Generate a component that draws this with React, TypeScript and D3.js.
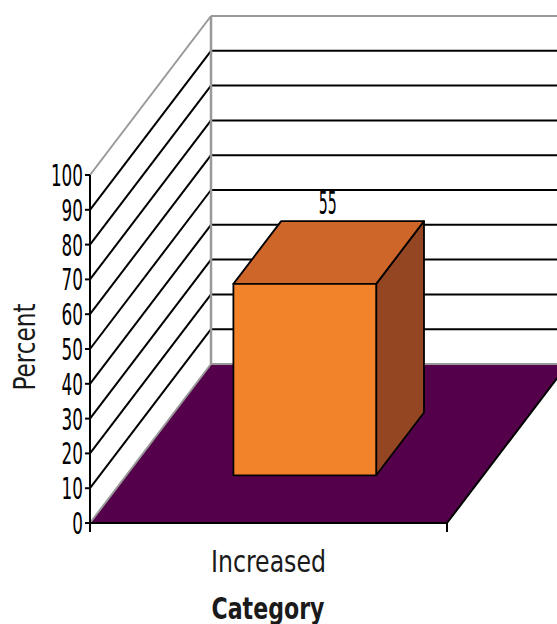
import React from "react";
import * as d3 from "d3";

const categories = ["Increased"];
const values = [55];
const yTicks = [0, 10, 20, 30, 40, 50, 60, 70, 80, 90, 100];
const yTitle = "Percent";
const xTitle = "Category";

const W = 557;
const H = 624;
const FONT = "'Liberation Sans Narrow', 'DejaVu Sans Condensed', 'Liberation Sans', sans-serif";

export default function App() {
  const y = d3.scaleLinear().domain([0, 100]).range([523, 175]);
  const x = d3.scaleBand().domain(categories).range([90, 447]).padding(0);
  const DX = 121;
  const DY = -159;
  const right = 447;
  const gray = "#999999";
  const zF = 0.3;
  const zB = 0.695;
  const barFrac = 0.4;
  const digitW = 10.7;

  const pts = (a: [number, number][]) => a.map((p) => p.join(",")).join(" ");

  return (
    <svg width={W} height={H} style={{ position: "absolute", left: 0, top: 0 }}>
      <rect x={0} y={0} width={W} height={H} fill="#ffffff" />
      {/* floor */}
      <polygon
        points={pts([
          [x.range()[0], y(0)],
          [right, y(0)],
          [right + DX, y(0) + DY],
          [x.range()[0] + DX, y(0) + DY],
        ])}
        fill="#55004A"
      />
      {/* back wall gridlines */}
      {yTicks.map((t, i) => (
        <line
          key={"bg" + t}
          x1={90 + DX}
          x2={W + 20}
          y1={y(t) + DY}
          y2={y(t) + DY}
          stroke={i === 0 || i === yTicks.length - 1 ? gray : "#000"}
          strokeWidth={2}
        />
      ))}
      {/* left wall diagonals */}
      {yTicks.map((t, i) => (
        <line
          key={"lw" + t}
          x1={90}
          y1={y(t)}
          x2={90 + DX}
          y2={y(t) + DY}
          stroke={i === 0 || i === yTicks.length - 1 ? gray : "#000"}
          strokeWidth={2}
        />
      ))}
      {/* back wall vertical */}
      <line x1={90 + DX} x2={90 + DX} y1={y(100) + DY} y2={y(0) + DY} stroke={gray} strokeWidth={2.5} />
      {/* floor front and right edges */}
      <line x1={90} x2={right} y1={y(0)} y2={y(0)} stroke="#000" strokeWidth={2} />
      <line x1={right} y1={y(0)} x2={right + DX} y2={y(0) + DY} stroke="#000" strokeWidth={2} />

      {/* bars */}
      {categories.map((c, i) => {
        const bw = x.bandwidth() * barFrac;
        const cx = (x(c) as number) + x.bandwidth() / 2;
        const x0 = cx - bw / 2 + DX * zF;
        const x1 = cx + bw / 2 + DX * zF;
        const yb = y(0) + DY * zF;
        const yt = y(values[i]) + DY * zF;
        const ddx = DX * (zB - zF);
        const ddy = DY * (zB - zF);
        return (
          <g key={c} stroke="#000" strokeWidth={1.8} strokeLinejoin="round">
            <polygon points={pts([[x1, yb], [x1 + ddx, yb + ddy], [x1 + ddx, yt + ddy], [x1, yt]])} fill="#944622" />
            <polygon points={pts([[x0, yt], [x1, yt], [x1 + ddx, yt + ddy], [x0 + ddx, yt + ddy]])} fill="#CD6628" />
            <rect x={x0} y={yt} width={x1 - x0} height={yb - yt} fill="#F2832A" />
            <text
              x={(x0 + x1 + ddx) / 2 - 10}
              y={yt + ddy - 7}
              fontFamily={FONT}
              fontSize={32}
              textLength={String(values[i]).length * 9}
              lengthAdjust="spacingAndGlyphs"
              stroke="none"
              fill="#000"
            >
              {values[i]}
            </text>
          </g>
        );
      })}

      {/* y axis */}
      <line x1={90} x2={90} y1={y(100)} y2={y(0) + 8} stroke="#000" strokeWidth={2} />
      {yTicks.map((t) => {
        const s = String(t);
        const len = s.length * digitW;
        return (
          <g key={"t" + t}>
            <line x1={85} x2={90} y1={y(t)} y2={y(t)} stroke="#000" strokeWidth={2} />
            <text
              x={83 - len}
              y={y(t) + 11}
              fontFamily={FONT}
              fontSize={31}
              textLength={len}
              lengthAdjust="spacingAndGlyphs"
              fill="#000"
            >
              {s}
            </text>
          </g>
        );
      })}
      {/* x axis ticks */}
      <line x1={90} x2={90} y1={y(0)} y2={y(0) + 9} stroke="#000" strokeWidth={2} />
      <line x1={right} x2={right} y1={y(0)} y2={y(0) + 9} stroke="#000" strokeWidth={2} />
      {categories.map((c) => (
        <text
          key={"xl" + c}
          x={(x(c) as number) + x.bandwidth() / 2 - 115 / 2}
          y={572}
          fontFamily={FONT}
          fontSize={31}
          textLength={115}
          lengthAdjust="spacingAndGlyphs"
          fill="#1a1a1a"
        >
          {c}
        </text>
      ))}
      <text
        x={268 - 113 / 2}
        y={619}
        fontFamily={FONT}
        fontSize={30}
        fontWeight="bold"
        textLength={113}
        lengthAdjust="spacingAndGlyphs"
        fill="#1a1a1a"
      >
        {xTitle}
      </text>
      <text
        transform={`translate(35, ${347 + 87 / 2}) rotate(-90)`}
        x={0}
        y={0}
        fontFamily={FONT}
        fontSize={31}
        textLength={87}
        lengthAdjust="spacingAndGlyphs"
        fill="#1a1a1a"
      >
        {yTitle}
      </text>
    </svg>
  );
}
